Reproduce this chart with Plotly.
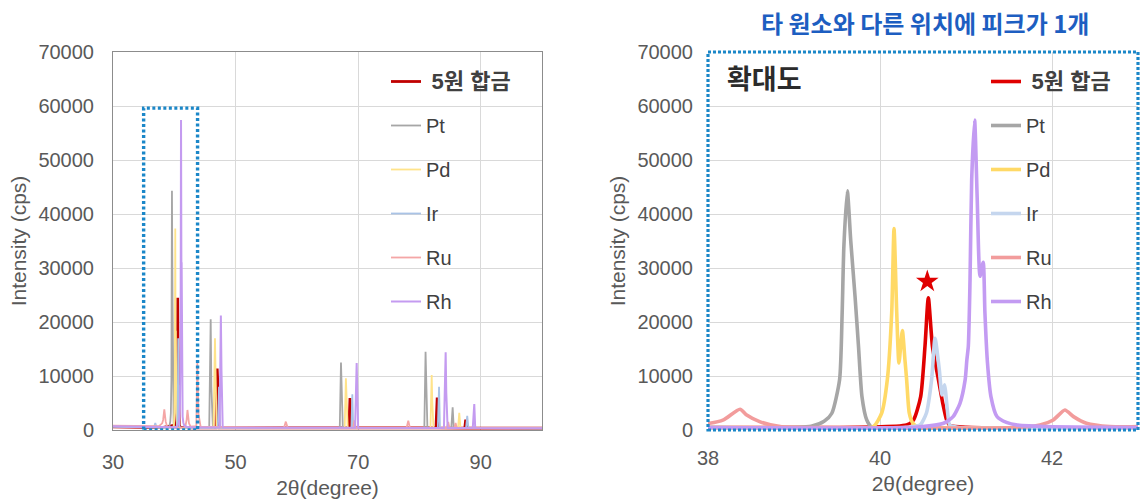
import plotly.graph_objects as go

# ---------------- data (2θ in degree, intensity in cps) ----------------
alloy_x = [30, 38, 40.31, 40.39, 40.473, 40.523, 40.562, 40.61, 40.68, 40.73, 40.775, 40.81, 41, 43,
           46.8, 47.0, 47.1, 47.3, 68.5, 68.67, 68.8, 82.7, 82.9, 83.0, 87.4, 87.55, 87.7, 100]
alloy_y = [600, 450, 930, 1860, 6190, 15470, 24500, 15470, 9280, 4950, 1860, 900, 500, 400,
           400, 11400, 8700, 400, 380, 5900, 380, 380, 6000, 380, 350, 1900, 350, 320]

pt_x = [30, 34, 38, 38.6, 39.2, 39.35, 39.44, 39.53, 39.56, 39.58, 39.62, 39.66, 39.71, 39.75, 39.79,
        39.845, 39.9, 40.2, 41, 43, 45.7, 45.94, 46.05, 46.3, 50, 60, 67.0, 67.2, 67.3, 67.5, 75,
        80.8, 81.0, 81.1, 81.3, 85.2, 85.42, 85.6, 90, 95, 100]
pt_y = [700, 600, 450, 420, 700, 1600, 3100, 9300, 21700, 34000, 44300, 35000, 24700, 15500, 6200,
        1900, 600, 400, 380, 380, 400, 20500, 8000, 450, 400, 380, 400, 12500, 6500, 400, 350,
        380, 14500, 7400, 400, 380, 4200, 400, 350, 330, 320]

pd_x = [30, 38, 39.6, 39.92, 40.02, 40.085, 40.136, 40.163, 40.194, 40.22, 40.26, 40.29, 40.31, 40.34,
        40.38, 40.45, 41, 43, 46.4, 46.64, 46.75, 46.9, 60, 67.8, 68.0, 68.1, 68.3, 81.8, 82.0, 82.1,
        82.3, 86.3, 86.5, 86.7, 100]
pd_y = [700, 450, 420, 600, 3150, 9300, 21700, 37300, 22000, 12400, 18400, 13000, 9300, 3150,
        1300, 500, 400, 380, 400, 17000, 8500, 400, 380, 400, 9600, 4800, 400, 380, 10200, 5100,
        380, 350, 3200, 350, 320]

ir_x = [30, 36.7, 36.9, 37.1, 38, 40.3, 40.465, 40.54, 40.6, 40.64, 40.69, 40.72, 40.75, 40.787,
        40.81, 40.9, 43, 47.1, 47.3, 47.45, 60, 68.9, 69.05, 69.2, 83.0, 83.2, 83.35, 87.6, 87.8,
        88.0, 100]
ir_y = [600, 500, 1300, 500, 450, 500, 930, 3150, 9300, 17000, 11100, 6500, 8350, 3150,
        930, 500, 400, 400, 8000, 400, 380, 380, 6600, 380, 380, 8000, 380, 350, 2600,
        350, 320]

ru_x = [30, 37.5, 38.02, 38.18, 38.372, 38.45, 38.6, 38.84, 39.2, 40, 41, 41.59, 41.86, 42.015,
        42.15, 42.25, 42.4, 42.67, 43.0, 43.6, 43.76, 43.95, 44.3, 57.9, 58.2, 58.5, 69.2, 69.4,
        69.6, 77.9, 78.18, 78.45, 84.5, 84.7, 84.9, 85.7, 85.9, 86.1, 100]
ru_y = [800, 700, 1240, 1860, 3840, 2780, 1550, 620, 450, 400, 370, 450, 930, 1860,
        3710, 2480, 1240, 620, 620, 700, 12400, 3000, 600, 400, 1550, 400, 380, 1800,
        380, 380, 1730, 380, 380, 1500, 380, 380, 1300, 380, 330]

rh_x = [30, 38, 40.4, 40.74, 40.85, 40.93, 40.99, 41.01, 41.027, 41.047, 41.066, 41.10, 41.13,
        41.163, 41.20, 41.22, 41.25, 41.29, 41.36, 41.47, 41.6, 42, 43, 47.4, 47.6, 47.7, 47.9,
        60, 69.5, 69.76, 69.85, 70.0, 84.0, 84.28, 84.38, 84.6, 88.7, 88.95, 89.1, 100]
rh_y = [700, 450, 500, 1240, 2470, 4950, 9280, 13000, 15470, 27850, 46400, 57400, 43000,
        28460, 31070, 21720, 12380, 6190, 2500, 1400, 900, 600, 450, 450, 21200, 11000, 450,
        400, 400, 12400, 6500, 400, 380, 14400, 7000, 380, 350, 4800, 350, 320]

star_x = [40.55]
star_y = [27500]

names = ["\u00a0<b><span style='font-size:22px'>5원 합금</span></b>", "Pt", "Pd", "Ir", "Ru", "Rh"]
xs = [alloy_x, pt_x, pd_x, ir_x, ru_x, rh_x]
ys = [alloy_y, pt_y, pd_y, ir_y, ru_y, rh_y]
colors_left = ["#C00000", "#A6A6A6", "#FFE38A", "#A9C3E6", "#F4A6A6", "#C49BF0"]
colors_right = ["#E00000", "#A6A6A6", "#FFD966", "#C5D6EE", "#F29C9C", "#C39BF2"]
widths_left = [2.8, 1.8, 1.8, 1.8, 1.8, 2.0]

FONT = "Liberation Sans, Arial, Noto Sans CJK KR, sans-serif"
TXT = "#595959"

fig = go.Figure()
for i in range(6):
    fig.add_trace(go.Scatter(
        x=xs[i], y=ys[i], name=names[i], mode="lines",
        line=dict(color=colors_left[i], width=widths_left[i]),
        xaxis="x", yaxis="y", legend="legend", legendgroup="L%d" % i,
        hoverinfo="skip"))
for i in range(6):
    fig.add_trace(go.Scatter(
        x=xs[i], y=ys[i], name=names[i], mode="lines",
        line=dict(color=colors_right[i], width=3.6, shape="spline", smoothing=0.6),
        xaxis="x2", yaxis="y2", legend="legend2", legendgroup="R%d" % i,
        hoverinfo="skip"))
fig.add_trace(go.Scatter(x=star_x, y=star_y, mode="markers", showlegend=False,
                         marker=dict(symbol="star", size=17, color="#E00000"),
                         xaxis="x2", yaxis="y2", hoverinfo="skip"))

W, H = 1140, 499
def px(v): return v / W
def py(v): return 1 - v / H

axis_common = dict(
    showgrid=True, gridcolor="#D9D9D9", gridwidth=1, zeroline=False,
    tickfont=dict(family=FONT, size=20, color=TXT), automargin=False,
    ticks="", ticklabelstandoff=14, tickformat="d",
)

fig.update_layout(
    width=W, height=H, margin=dict(l=0, r=0, t=0, b=0),
    paper_bgcolor="white", plot_bgcolor="white",
    font=dict(family=FONT, color=TXT),
    xaxis=dict(domain=[px(113), px(542)], range=[30, 100], tickvals=[30, 50, 70, 90],
               anchor="y", showline=True, mirror=True, linecolor="#8C8C8C", linewidth=1,
               title=dict(text="2θ(degree)", font=dict(family=FONT, size=21, color=TXT), standoff=8),
               **axis_common),
    yaxis=dict(domain=[py(430), py(52)], range=[0, 70000], dtick=10000, anchor="x",
               showline=True, mirror=True, linecolor="#8C8C8C", linewidth=1,
               title=dict(text="Intensity (cps)", font=dict(family=FONT, size=21, color=TXT), standoff=6),
               **axis_common),
    xaxis2=dict(domain=[px(708), px(1138)], range=[38, 43], tickvals=[38, 40, 42],
                anchor="y2", showline=False,
                title=dict(text="2θ(degree)", font=dict(family=FONT, size=21, color=TXT), standoff=8),
                **axis_common),
    yaxis2=dict(domain=[py(430), py(52)], range=[0, 70000], dtick=10000, anchor="x2",
                showline=False,
                title=dict(text="Intensity (cps)", font=dict(family=FONT, size=21, color=TXT), standoff=6),
                **axis_common),
    legend=dict(x=px(386), y=py(62), xanchor="left", yanchor="top", bgcolor="rgba(0,0,0,0)",
                font=dict(family=FONT, size=20, color="#404040"), tracegroupgap=15,
                traceorder="grouped"),
    legend2=dict(x=px(986), y=py(62), xanchor="left", yanchor="top", bgcolor="rgba(0,0,0,0)",
                 font=dict(family=FONT, size=20, color="#404040"), tracegroupgap=15,
                 traceorder="grouped"),
    showlegend=True,
)

# dotted highlight boxes
fig.add_shape(type="rect", xref="x", yref="y", x0=35.0, x1=43.8, y0=0, y1=59600,
              line=dict(color="#1B87C8", width=3.4, dash="3px,2.5px"), layer="above")
fig.add_shape(type="rect", xref="x2 domain", yref="y2 domain", x0=0, x1=1, y0=0, y1=1,
              line=dict(color="#1B87C8", width=3.2, dash="3px,2px"), layer="above")

fig.add_annotation(text="<b>타 원소와 다른 위치에 피크가 1개</b>", xref="paper", yref="paper",
                   x=px(925), y=py(22), xanchor="center", yanchor="middle", showarrow=False,
                   font=dict(family="Noto Sans CJK KR", size=24, color="#1D5EC1"))
fig.add_annotation(text="<b>확대도</b>", xref="paper", yref="paper",
                   x=px(725), y=py(78), xanchor="left", yanchor="middle", showarrow=False,
                   font=dict(family="Noto Sans CJK KR", size=27, color="#2B2B2B"))

fig.write_html("out.html", config={"displayModeBar": False},
               post_script="document.body.style.margin='0px';")
